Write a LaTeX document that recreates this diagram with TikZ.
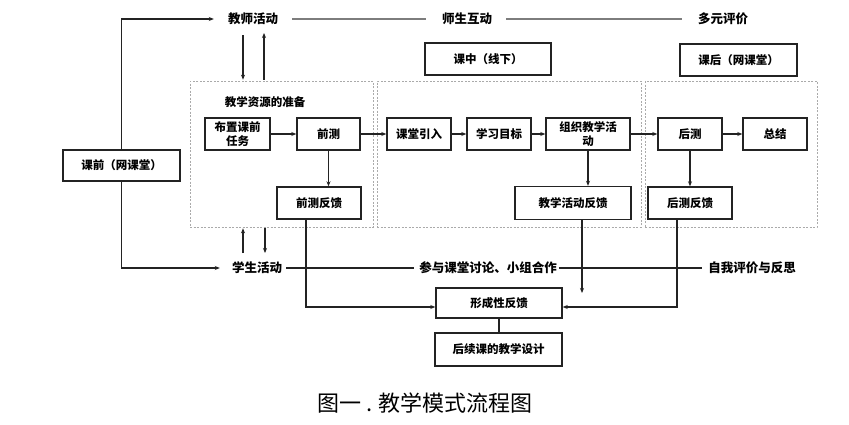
\documentclass[tikz,border=0pt]{standalone}
\usepackage{fontspec}
\setmainfont{Noto Sans CJK SC}
\usetikzlibrary{arrows.meta,positioning}
\definecolor{lineDark}{RGB}{35,35,35}
\definecolor{lineGray}{RGB}{125,125,125}
\definecolor{regionGray}{RGB}{170,170,170}
\tikzset{
  flowbox/.style={draw=lineDark,line width=1.4pt,fill=white,inner sep=2pt,align=center,font=\bfseries\fontsize{11.5}{13.5}\selectfont},
  phaselbl/.style={inner sep=2pt,font=\bfseries\fontsize{12.5}{14}\selectfont},
  region/.style={draw=regionGray,dash pattern=on 2pt off 1.5pt,line width=.7pt},
  arr/.style={-{Stealth[length=5pt,width=4pt]},draw=lineDark,line width=1.2pt},
  plain/.style={draw=lineDark,line width=1.2pt}
}

\begin{document}
\begin{tikzpicture}[x=1pt,y=-1pt]
\fill[white] (0,0) rectangle (849,424);

% dotted regions
\node[region,minimum width=183pt,minimum height=146pt] (zbq) at (281.5,154) {};
\node[region,minimum width=264pt,minimum height=146pt] (ktq) at (509,154) {};
\node[region,minimum width=172pt,minimum height=146pt] (khq) at (731,154) {};
\node[phaselbl,font=\bfseries\fontsize{11.5}{13}\selectfont] (zbt) at (265,102) {教学资源的准备};

% phase labels
\node[phaselbl] (jshd) at (253,19) {教师活动};
\node[phaselbl] (sshd) at (467,19) {师生互动};
\node[phaselbl] (pj) at (723,19) {多元评价};
\node[phaselbl] (xshd) at (257,268) {学生活动};
\node[phaselbl] (cy) at (488,268) {参与课堂讨论、小组合作};
\node[phaselbl] (zp) at (752,268) {自我评价与反思};

% boxes
\node[flowbox,minimum width=117pt,minimum height=31pt] (kq) at (121.5,165.5) {课前（网课堂）};
\node[flowbox,minimum width=126pt,minimum height=32pt] (kz) at (488,59) {课中（线下）};
\node[flowbox,minimum width=117pt,minimum height=32pt] (kh) at (738.5,60) {课后（网课堂）};

\node[flowbox,minimum width=65pt,minimum height=32pt] (bzrw) at (237.5,134) {布置课前\\任务};
\node[flowbox,minimum width=63pt,minimum height=32pt] (qc) at (328.5,134) {前测};
\node[flowbox,minimum width=84pt,minimum height=32pt] (qcfk) at (319,203) {前测反馈};
\node[flowbox,minimum width=64pt,minimum height=32pt] (ktyr) at (419,134) {课堂引入};
\node[flowbox,minimum width=64pt,minimum height=32pt] (xxmb) at (499,134) {学习目标};
\node[flowbox,minimum width=84pt,minimum height=32pt] (zzhd) at (588,134) {组织教学活\\动};
\node[flowbox,minimum width=116pt,minimum height=33pt] (jxfk) at (573,203) {教学活动反馈};
\node[flowbox,minimum width=64pt,minimum height=32pt] (hc) at (690,134) {后测};
\node[flowbox,minimum width=64pt,minimum height=32pt] (zj) at (775,134) {总结};
\node[flowbox,minimum width=84pt,minimum height=32pt] (hcfk) at (690,203) {后测反馈};
\node[flowbox,minimum width=126pt,minimum height=30pt] (xcx) at (499,303) {形成性反馈};
\node[flowbox,minimum width=127pt,minimum height=33pt] (hxsj) at (498.5,349.5) {后续课的教学设计};

\node[font=\fontsize{22}{24}\selectfont] (cap) at (425,403) {图一 . 教学模式流程图};

% time lines
\draw[arr,shorten >=12pt] (kq.north) |- (jshd.west);
\draw[lineGray,line width=2pt,shorten <=12pt,shorten >=14pt] (jshd) -- (sshd);
\draw[lineGray,line width=2pt,shorten <=12pt,shorten >=14pt] (sshd) -- (pj);
\draw[arr,shorten >=10pt] (kq.south) |- (xshd.west);
\draw[plain,shorten <=2pt,shorten >=3pt] (xshd) -- (cy);
\draw[plain,shorten >=4pt] (cy) -- (zp);

% arrows to the first region
\coordinate (ua) at (243,35);
\coordinate (ub) at (264,33);
\coordinate (da) at (243,253);
\coordinate (db) at (265,253);
\draw[arr,shorten >=1pt] (ua) -- (ua |- zbq.north);
\draw[arr,shorten <=1pt] (ub |- zbq.north) -- (ub);
\draw[arr,shorten >=1pt] (da) -- (da |- zbq.south);
\draw[arr,shorten <=1pt] (db |- zbq.south) -- (db);

% flow
\draw[arr] (bzrw) -- (qc);
\draw[arr] (qc) -- (ktyr);
\draw[arr] (ktyr) -- (xxmb);
\draw[arr] (xxmb) -- (zzhd);
\draw[arr] (zzhd) -- (hc);
\draw[arr] (hc) -- (zj);
\draw[arr] (qc) -- (qc |- qcfk.north);
\draw[arr] (zzhd) -- (zzhd |- jxfk.north);
\draw[arr] (hc) -- (hc |- hcfk.north);

% feedback
\coordinate (jxend) at (582,293);
\draw[arr] ([xshift=-13pt]qcfk.south) |- ([yshift=-4pt]xcx.west);
\draw[arr] (jxfk.south -| jxend) -- (jxend);
\draw[arr] ([xshift=-13pt]hcfk.south) |- ([yshift=-4pt]xcx.east);
\draw[plain] (xcx.south) -- (xcx.south |- hxsj.north);
\end{tikzpicture}
\end{document}
